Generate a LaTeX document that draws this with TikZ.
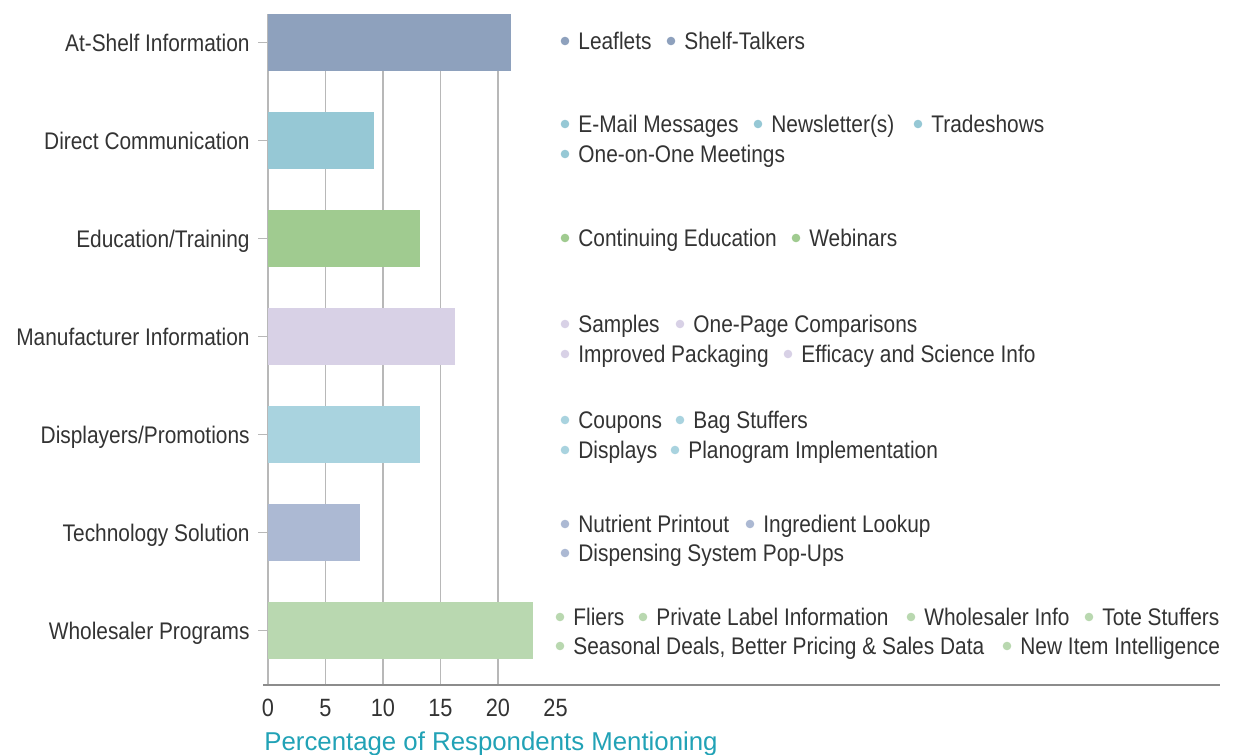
\documentclass[tikz,border=0pt]{standalone}
\usepackage{fontspec}
\setmainfont{Liberation Sans}[FakeStretch=0.87]
\newfontfamily\titlefont{Liberation Sans}
\usetikzlibrary{positioning}

\definecolor{txt}{HTML}{333333}
\definecolor{grid}{HTML}{B8B8B8}
\definecolor{axis}{HTML}{8C8C8C}
\definecolor{ttl}{HTML}{21A2B6}
\definecolor{cA}{HTML}{8EA1BD}
\definecolor{cB}{HTML}{96C8D5}
\definecolor{cC}{HTML}{A0CB90}
\definecolor{cD}{HTML}{D8D1E6}
\definecolor{cE}{HTML}{A9D3DF}
\definecolor{cF}{HTML}{ACB9D3}
\definecolor{cG}{HTML}{B9D8B0}

\begin{document}
\begin{tikzpicture}[x=0.5pt,y=-0.5pt,
  every node/.style={inner sep=0,text=txt,font=\fontsize{12}{14}\selectfont},
  cat/.style={anchor=base east},
  lgd/.style={anchor=base west},
  dot/.style={circle,minimum size=4.3pt,inner sep=0},
  bar/.style={anchor=west,minimum height=28.5pt,inner sep=0},
  num/.style={anchor=base,font=\fontsize{12.5}{14}\selectfont}]

 \useasboundingbox (0,0) rectangle (1233,755);

 % grid and axis
 \foreach \v in {0,5,...,20}
  \draw[grid,line width=0.6pt] ({268+11.5*\v},14) -- ({268+11.5*\v},685);
 \draw[axis,line width=0.8pt] (263,685) -- (1220,685);
 \foreach \v in {0,5,...,25}
  \node[num] (n\v) at ({268+11.5*\v},716) {\v};
 \node[anchor=base west,text=ttl,font=\titlefont\fontsize{12.9}{14}\selectfont]
  (title) at (264,750) {Percentage of Respondents Mentioning};

 % bars
 \foreach \t/\c/\v [count=\i] in {At-Shelf Information/cA/21.1,
   Direct Communication/cB/9.2,{Education/Training}/cC/13.2,
   Manufacturer Information/cD/16.2,{Displayers/Promotions}/cE/13.2,
   Technology Solution/cF/8,Wholesaler Programs/cG/23}
 {
  \node[bar,fill=\c,minimum width={5.75pt*\v}] (bar\i) at (268,{42.5+98*(\i-1)}) {};
  \draw[grid,line width=0.6pt] (bar\i.west) -- ++(-10,0);
  \node[cat] (cat\i) at (250,{42.5+98*(\i-1)+8.6}) {\t};
 }

 % legend items
 \foreach \x/\y/\c/\t [count=\i] in {565/41/cA/Leaflets,671/41/cA/Shelf-Talkers,
   565/124/cB/E-Mail Messages,758/124/cB/Newsletter(s),918/124/cB/Tradeshows,
   565/154/cB/One-on-One Meetings,
   565/238/cC/Continuing Education,796/238/cC/Webinars,
   565/324/cD/Samples,680/324/cD/One-Page Comparisons,
   565/354/cD/Improved Packaging,788/354/cD/Efficacy and Science Info,
   565/420/cE/Coupons,680/420/cE/Bag Stuffers,
   565/450/cE/Displays,675/450/cE/Planogram Implementation,
   565/524/cF/Nutrient Printout,750/524/cF/Ingredient Lookup,
   565/553/cF/Dispensing System Pop-Ups,
   560/617/cG/Fliers,643/617/cG/Private Label Information,
   911/617/cG/Wholesaler Info,1089/617/cG/Tote Stuffers,
   560/646/cG/{Seasonal Deals, Better Pricing \& Sales Data},
   1007/646/cG/New Item Intelligence}
 {
  \node[dot,fill=\c] (d\i) at (\x,\y) {};
  \node[lgd] (item\i) at ({\x+13},{\y+8.6}) {\t};
 }
\end{tikzpicture}
\end{document}
